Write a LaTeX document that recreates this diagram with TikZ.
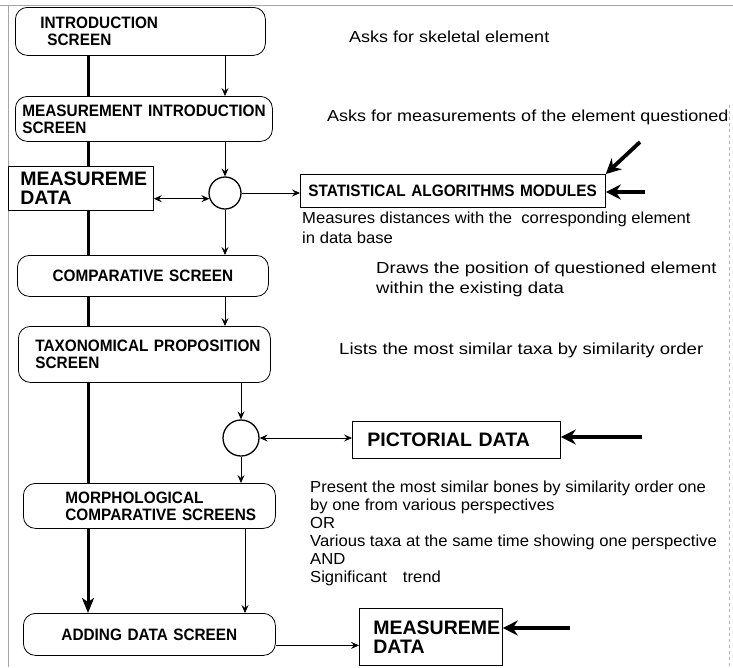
\documentclass[tikz,border=0pt]{standalone}
\usepackage{fontspec}
\setmainfont{Liberation Sans}
\newfontfamily\boxfont{Liberation Sans}[FakeStretch=0.93, WordSpace=0.45]
\newfontfamily\notefont{Liberation Sans}[FakeStretch=1.125]
\newfontfamily\widenotefont{Liberation Sans}[FakeStretch=1.16]
\newfontfamily\presentfont{Liberation Sans}[FakeStretch=1.04]
\usetikzlibrary{arrows.meta,backgrounds}
\hyphenpenalty=10000
\exhyphenpenalty=10000

\begin{document}
\begin{tikzpicture}[x=1pt, y=-1pt,
  screen/.style={draw, line width=0.8pt, rounded corners=12pt, fill=white, anchor=north west,
    inner xsep=5pt, inner ysep=0pt, align=left, font=\boxfont\bfseries\fontsize{16.5}{17}\selectfont},
  module/.style={screen, rounded corners=0pt},
  databox/.style={draw, line width=0.8pt, fill=white, anchor=north west, inner ysep=0pt,
    align=left, font=\bfseries\fontsize{19.5}{19}\selectfont},
  hub/.style={draw, circle, line width=1.3pt, fill=white, inner sep=0pt},
  note/.style={inner sep=0pt, align=left, font=\notefont\fontsize{16}{20}\selectfont},
  arr/.style={line width=0.7pt, -{Stealth[length=8pt, width=7pt, inset=3pt]}},
  darr/.style={line width=0.7pt, {Stealth[length=8pt, width=7pt, inset=3pt]}-{Stealth[length=8pt, width=7pt, inset=3pt]}},
  bigarr/.style={line width=3.8pt, -{Stealth[length=15pt, width=15pt, inset=5pt]}},
  spineline/.style={line width=3pt, -{Stealth[length=15pt, width=12pt, inset=4pt]}}]
\useasboundingbox (0,0) rectangle (733,667);

\draw[gray!70, line width=0.6pt] (0,5) -- (733,5);
\draw[gray!70, line width=0.6pt] (8,5) -- (8,667);
\draw[gray!60, dashed, line width=0.5pt] (729,105) -- (729,667);

\node[screen, minimum height=48pt, text width=240pt] (intro) at (15,7) {\hspace*{20pt}INTRODUCTION\\\hspace*{27pt}SCREEN};
\node[screen, minimum height=45pt, text width=247pt] (measintro) at (15,96) {\hspace*{2pt}MEASUREMENT~INTRODUCTION\\\hspace*{2pt}SCREEN};
\node[databox, minimum height=44pt, inner xsep=12pt, text width=121pt] (mdata) at (8,166) {MEASUREME\\DATA};
\node[hub, minimum size=32pt] (hubA) at (225,193) {};
\node[module, minimum height=33pt, inner xsep=8pt, text width=289pt] (stat) at (300,174) {STATISTICAL~ALGORITHMS~MODULES};
\node[screen, minimum height=41pt, text width=241pt, align=center] (comp) at (17,255) {COMPARATIVE SCREEN};
\node[screen, minimum height=56pt, text width=242pt] (taxo) at (18,326) {\hspace*{12pt}TAXONOMICAL~PROPOSITION\\\hspace*{12pt}SCREEN};
\node[hub, minimum size=36pt] (hubB) at (241,438) {};
\node[databox, minimum height=37pt, inner xsep=15pt, text width=178pt] (pict) at (352,421) {PICTORIAL DATA};
\node[screen, minimum height=45pt, text width=242pt] (morph) at (23,483) {\hspace*{37pt}MORPHOLOGICAL\\\hspace*{37pt}COMPARATIVE~SCREENS};
\node[screen, minimum height=42pt, text width=242pt, align=center] (adding) at (23,613) {ADDING DATA SCREEN};
\node[databox, minimum height=57pt, inner xsep=14pt, text width=115pt] (mdatab) at (359,608) {MEASUREME\\DATA};

\node[note, anchor=west] (askskel) at (349,37) {Asks for skeletal element};
\node[note, anchor=west] (askmeas) at (327,117) {Asks for measurements of the element questioned};
\node[note, anchor=north west, font=\presentfont\fontsize{16}{20}\selectfont] (distances) at (302,212) {Measures distances with the\ \ corresponding element\\in data base};
\node[note, anchor=north west, font=\widenotefont\fontsize{16}{20}\selectfont] (position) at (376,262) {Draws the position of questioned element\\within the existing data};
\node[note, anchor=west, font=\widenotefont\fontsize{16}{20}\selectfont] (lists) at (339,350) {Lists the most similar taxa by similarity order};
\node[note, anchor=north west, font=\presentfont\fontsize{16}{18}\selectfont] (present) at (310,481) {Present the most similar bones by similarity order one\\by one from various perspectives\\OR\\Various taxa at the same time showing one perspective\\AND\\Significant\quad trend};

\coordinate (spine) at (88,0);
\coordinate (colC) at (245,0);
\coordinate (pushA) at (640,142);
\coordinate (pushB) at (645,192);
\coordinate (pushC) at (642,437);
\coordinate (pushD) at (570,628);

\begin{scope}[on background layer]
\draw[spineline] (intro.south -| spine) -- (adding.north -| spine);
\end{scope}

\draw[arr] (intro.south -| hubA) -- (measintro.north -| hubA);
\draw[arr] (measintro.south -| hubA) -- (hubA.north);
\draw[darr] (mdata.east |- hubA.200) -- (hubA.200);
\draw[arr] (hubA.east) -- (hubA.east -| stat.west);
\draw[bigarr] (pushA) -- (stat.north east);
\draw[bigarr] (pushB) -- (pushB -| stat.east);
\draw[arr] (hubA.south) -- (comp.north -| hubA);
\draw[arr] (comp.south -| hubA) -- (taxo.north -| hubA);
\draw[arr] (taxo.south -| hubB) -- (hubB.north);
\draw[darr] (hubB.east) -- (hubB.east -| pict.west);
\draw[bigarr] (pushC) -- (pushC -| pict.east);
\draw[arr] (hubB.south) -- (morph.north -| hubB);
\draw[arr] (morph.south -| colC) -- (adding.north -| colC);
\draw[arr] ([yshift=-11pt]adding.east) -- ([yshift=-11pt]adding.east -| mdatab.west);
\draw[bigarr] (pushD) -- (pushD -| mdatab.east);
\end{tikzpicture}
\end{document}
